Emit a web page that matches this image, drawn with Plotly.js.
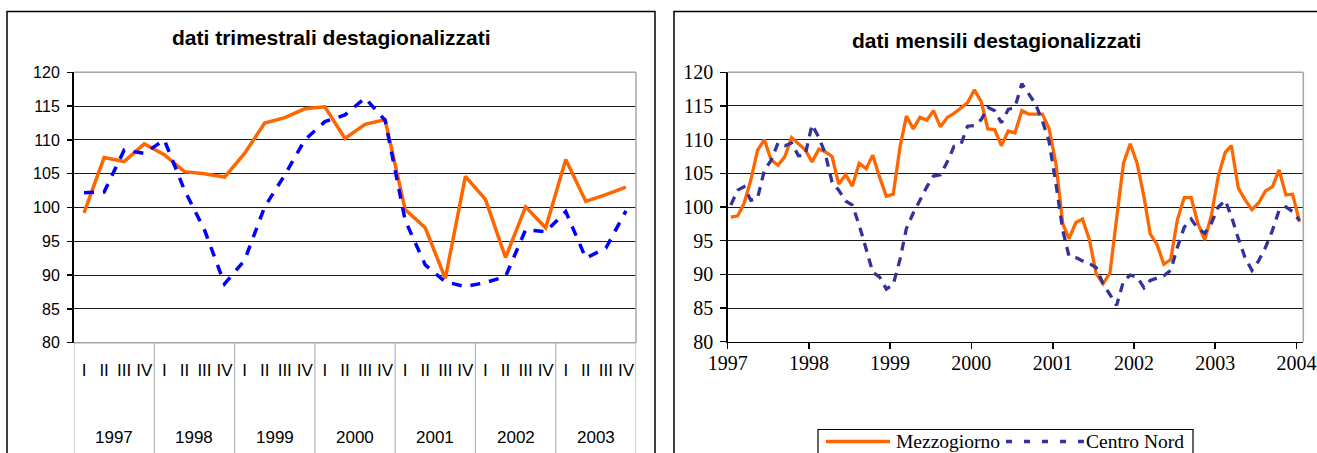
<!DOCTYPE html>
<html><head><meta charset="utf-8">
<script src="https://cdn.plot.ly/plotly-3.0.1.min.js"></script>
<style>
html,body{margin:0;padding:0;background:#fff;width:1317px;height:453px;overflow:hidden}
#chart{position:absolute;left:0;top:0;width:1317px;height:453px;overflow:hidden}
</style>
</head><body><div id="chart"></div>
<script>
// ---------- quarterly panel data ----------
const quarterLabels = ['I','II','III','IV'];
const quarterYears = ['1997','1998','1999','2000','2001','2002','2003'];
const mezzogiornoQ = [99.2,107.4,106.8,109.4, 107.8,105.3,105.0,104.5, 108.0,112.5,113.3,114.6, 114.9,110.2,112.3,113.0, 99.7,97.0,89.5,104.6, 101.2,92.6,100.1,97.0, 107.1,100.9,101.9,103.0];
const centroNordQ = [102.2,102.3,108.5,108.0, 110.0,102.6,96.7,88.7, 92.2,100.1,104.8,110.0, 112.7,113.7,116.2,112.9, 98.1,91.5,89.0,88.3, 88.9,89.8,96.7,96.4, 99.4,92.5,94.0,99.5];

// ---------- monthly panel data (Jan 1997 - Jan 2004) ----------
const mezzogiornoM = [98.5,98.7,100.5,104.0,108.4,110.0,107.0,106.2,107.5,110.3,109.4,108.5,
  106.7,108.6,108.2,107.5,103.4,104.8,103.1,106.5,105.7,107.7,104.4,101.6,
  101.9,109.0,113.5,111.6,113.3,112.9,114.3,111.9,113.3,113.9,114.7,115.5,
  117.4,115.6,111.6,111.5,109.1,111.3,111.0,114.3,113.8,113.8,113.8,111.7,
  106.5,97.5,95.3,97.7,98.2,95.1,90.1,88.6,90.2,98.3,106.5,109.4,
  106.5,101.5,96.0,94.4,91.5,92.2,98.1,101.4,101.4,97.6,95.1,98.8,
  104.6,108.1,109.1,102.8,101.1,99.6,100.6,102.4,103.0,105.5,101.8,101.9,
  97.8];
const centroNordM = [100.3,102.5,103.0,101.0,101.3,105.5,106.9,109.5,109.1,109.5,107.6,107.7,
  112.2,110.3,108.0,103.7,102.5,100.9,100.3,97.3,93.8,90.3,89.6,87.8,
  88.5,92.3,96.8,99.1,101.0,103.0,104.6,104.8,106.7,109.0,109.3,112.0,
  112.1,113.0,114.8,114.3,112.5,114.5,114.8,118.3,116.8,115.3,112.8,109.8,
  103.5,96.5,92.7,92.5,92.0,91.6,91.0,88.6,87.0,85.4,89.0,89.9,
  89.6,88.0,89.1,89.5,89.8,90.6,94.0,97.0,98.2,96.8,96.1,97.6,
  100.0,101.0,98.6,95.3,92.5,90.6,92.0,94.0,96.5,99.5,100.0,99.3,
  98.0];
const seriesNames = ['Mezzogiorno','Centro Nord'];

// month positions (mid-month dates)
const monthDates = [];
for (let k = 0; k < mezzogiornoM.length; k++) {
  const y = 1997 + Math.floor(k / 12), m = (k % 12) + 1;
  monthDates.push(y + '-' + String(m).padStart(2,'0') + '-15');
}
const qIdx = mezzogiornoQ.map((_, k) => k);
const qText = qIdx.map(k => quarterLabels[k % 4]);

const W = 1317, H = 453;
const px = v => v / W, py = v => 1 - v / H;

const orange = '#FF6600';
const blueQ = '#0000FF';
const blueM = '#333399';
const sans = 'Liberation Sans, Arial, sans-serif';
const serif = 'Liberation Serif, Times New Roman, serif';
const dashM = '9px,7px';

const traces = [
  {x: qIdx, y: mezzogiornoQ, xaxis:'x', yaxis:'y', mode:'lines',
   line:{color:orange, width:3.5}, name:seriesNames[0]},
  {x: qIdx, y: centroNordQ, xaxis:'x', yaxis:'y', mode:'lines',
   line:{color:blueQ, width:3.5, dash:'10px,9px'}, name:seriesNames[1]},
  {x: monthDates, y: mezzogiornoM, xaxis:'x2', yaxis:'y2', mode:'lines',
   line:{color:orange, width:3.3}, name:seriesNames[0]},
  {x: monthDates, y: centroNordM, xaxis:'x2', yaxis:'y2', mode:'lines',
   line:{color:blueM, width:3.3, dash:dashM}, name:seriesNames[1]}
];

const shapes = [
  {type:'rect', xref:'paper', yref:'paper', x0:px(7), x1:px(655), y0:-0.05, y1:py(11.5), line:{color:'#000', width:1.5}, layer:'below'},
  {type:'rect', xref:'paper', yref:'paper', x0:px(674), x1:1.05, y0:-0.05, y1:py(11.5), line:{color:'#000', width:1.5}, layer:'below'},
  {type:'line', xref:'x domain', yref:'y domain', x0:0, x1:1, y0:1, y1:1, line:{color:'#a6a6a6', width:1.5}},
  {type:'line', xref:'x domain', yref:'y domain', x0:1, x1:1, y0:0, y1:1, line:{color:'#a6a6a6', width:1.5}},
  {type:'line', xref:'x domain', yref:'y domain', x0:0, x1:1, y0:0, y1:0, line:{color:'#a6a6a6', width:1.5}},
  {type:'line', xref:'x2 domain', yref:'y2 domain', x0:0, x1:1, y0:1, y1:1, line:{color:'#a6a6a6', width:1.5}},
  {type:'line', xref:'x2 domain', yref:'y2 domain', x0:1, x1:1, y0:0, y1:1, line:{color:'#a6a6a6', width:1.5}},
  // legend box and samples (drawn in place so it can run off the bottom edge like the original)
  {type:'rect', xref:'paper', yref:'paper', x0:px(818), x1:px(1193), y0:-0.05, y1:py(429.5), line:{color:'#000', width:1.2}, fillcolor:'#fff'},
  {type:'line', xref:'paper', yref:'paper', x0:px(826), x1:px(890), y0:py(441.5), y1:py(441.5), line:{color:orange, width:3.3}},
  {type:'line', xref:'paper', yref:'paper', x0:px(1006), x1:px(1084), y0:py(441.5), y1:py(441.5), line:{color:blueM, width:3.3, dash:'6px,12px'}}
];
for (let k = 0; k <= quarterYears.length; k++) {
  shapes.push({type:'line', xref:'x', yref:'paper', x0:k*4-0.5, x1:k*4-0.5, y0:-0.02, y1:py(342.7),
    line:{color:'#b4b4b4', width:1.2}});
}

const annotations = [
  {text:'<b>dati trimestrali destagionalizzati</b>', xref:'paper', yref:'paper', x:px(331), y:py(38),
   showarrow:false, xanchor:'center', yanchor:'middle', font:{family:sans, size:21, color:'#000'}},
  {text:'<b>dati mensili destagionalizzati</b>', xref:'paper', yref:'paper', x:px(997), y:py(40),
   showarrow:false, xanchor:'center', yanchor:'middle', font:{family:sans, size:21, color:'#000'}},
  {text:seriesNames[0], xref:'paper', yref:'paper', x:px(894), y:py(441.5), showarrow:false,
   xanchor:'left', yanchor:'middle', font:{family:serif, size:19.5, color:'#000'}},
  {text:seriesNames[1], xref:'paper', yref:'paper', x:px(1084), y:py(441.5), showarrow:false,
   xanchor:'left', yanchor:'middle', font:{family:serif, size:19.5, color:'#000'}}
];
quarterYears.forEach((yr, k) => {
  annotations.push({text:yr, xref:'x', yref:'paper', x:k*4+1.5, y:py(437), showarrow:false,
    xanchor:'center', yanchor:'middle', font:{family:sans, size:17, color:'#000'}});
});

const layout = {
  width:W, height:H, autosize:false, margin:{l:0,r:0,t:0,b:0,pad:0},
  paper_bgcolor:'#fff', plot_bgcolor:'#fff',
  showlegend:false,
  xaxis:{domain:[px(74), px(636)], anchor:'y', range:[-0.5, 27.5], tickmode:'array',
    tickvals:qIdx, ticktext:qText, showgrid:false, zeroline:false, showline:false, ticks:'',
    ticklabelstandoff:15, tickfont:{family:sans, size:17, color:'#000'}, automargin:false},
  yaxis:{domain:[py(342.7), py(72.3)], anchor:'x', range:[80,120], dtick:5, tick0:80,
    showgrid:true, gridcolor:'#1a1a1a', gridwidth:1, zeroline:false, showline:true,
    linecolor:'#000', linewidth:2, ticks:'outside', ticklen:5, tickcolor:'#000', tickwidth:1.5,
    ticklabelstandoff:4, tickfont:{family:sans, size:16, color:'#000'}, automargin:false},
  xaxis2:{domain:[px(727.7), px(1303.3)], anchor:'y2', type:'date',
    range:['1997-01-01','2004-02-01'], tickmode:'linear', tick0:'1997-01-01', dtick:'M12',
    tickformat:'%Y', showgrid:false, zeroline:false, showline:true, linecolor:'#000', linewidth:1.5,
    ticks:'outside', ticklen:6, tickcolor:'#000', tickwidth:1.5, ticklabelstandoff:-3,
    tickfont:{family:serif, size:20, color:'#000'}, automargin:false},
  yaxis2:{domain:[py(341.7), py(72.3)], anchor:'x2', range:[80,120], dtick:5, tick0:80,
    showgrid:true, gridcolor:'#1a1a1a', gridwidth:1, zeroline:false, showline:true,
    linecolor:'#000', linewidth:1.5, ticks:'outside', ticklen:6, tickcolor:'#000', tickwidth:1.5,
    ticklabelstandoff:3, tickfont:{family:serif, size:20, color:'#000'}, automargin:false},
  shapes:shapes,
  annotations:annotations
};

Plotly.newPlot('chart', traces, layout, {staticPlot:true, displayModeBar:false, responsive:false});
</script>
</body></html>
